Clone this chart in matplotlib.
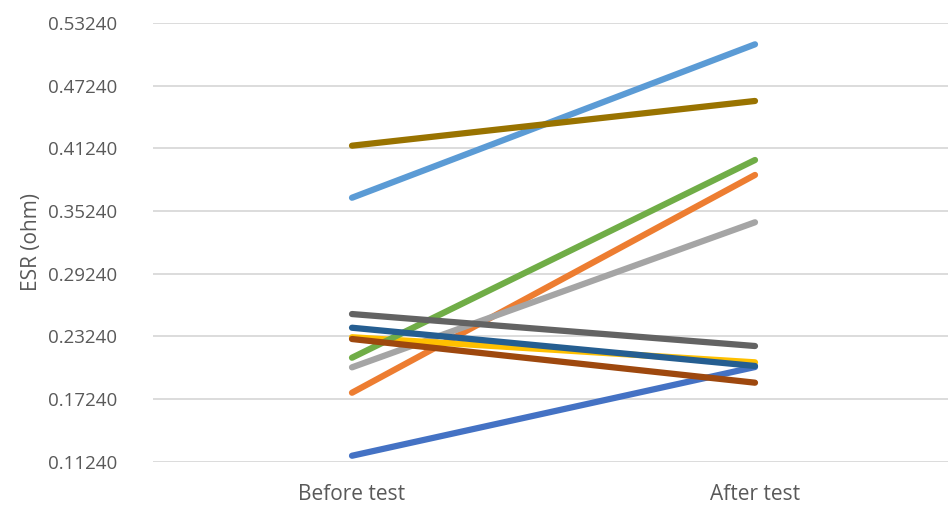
import numpy as np
import matplotlib
matplotlib.use("Agg")
import matplotlib.pyplot as plt

plt.rcParams['font.family'] = ['Open Sans', 'DejaVu Sans']

categories = ['Before test', 'After test']

# ESR values per sample (before, after)
series = [
    [0.1181, 0.2030],
    [0.1784, 0.3868],
    [0.2027, 0.3415],
    [0.2315, 0.2075],
    [0.3650, 0.5118],
    [0.2119, 0.4011],
    [0.2406, 0.2040],
    [0.2298, 0.1880],
    [0.2537, 0.2231],
    [0.4148, 0.4576],
]
colors = ['#4472C4', '#ED7D31', '#A5A5A5', '#FFC000', '#5B9BD5',
          '#70AD47', '#255E91', '#9E480E', '#636363', '#997300']

yticks = [0.1124, 0.1724, 0.2324, 0.2924, 0.3524, 0.4124, 0.4724, 0.5324]

fig = plt.figure(figsize=(9.48, 5.07), dpi=100)
ax = fig.add_axes([153 / 948, 45.3 / 507, 795 / 948, 438.9 / 507])

x = np.arange(len(categories))
for vals, c in zip(series, colors):
    ax.plot(x, vals, color=c, linewidth=4.5, solid_capstyle='round')

# category centres sit at 352 px and 755 px in the reference
ax.set_xlim(-(352 - 153) / 403, 1 + (948 - 755) / 403)
ax.set_ylim(yticks[0], yticks[-1])
ax.set_yticks(yticks)
ax.set_yticklabels(['%.5f' % v for v in yticks])
ax.set_xticks(x)
ax.set_xticklabels(categories, fontsize=15)

ax.grid(axis='y', color='#D9D9D9', linewidth=1.3)
ax.set_axisbelow(True)
for s in ax.spines.values():
    s.set_visible(False)
ax.tick_params(length=0, colors='#595959')
ax.tick_params(axis='y', pad=26, labelsize=13.5)
ax.tick_params(axis='x', pad=16)
ax.set_ylabel('ESR (ohm)', fontsize=15, color='#595959', labelpad=4)

plt.savefig('out.png', dpi=100)
